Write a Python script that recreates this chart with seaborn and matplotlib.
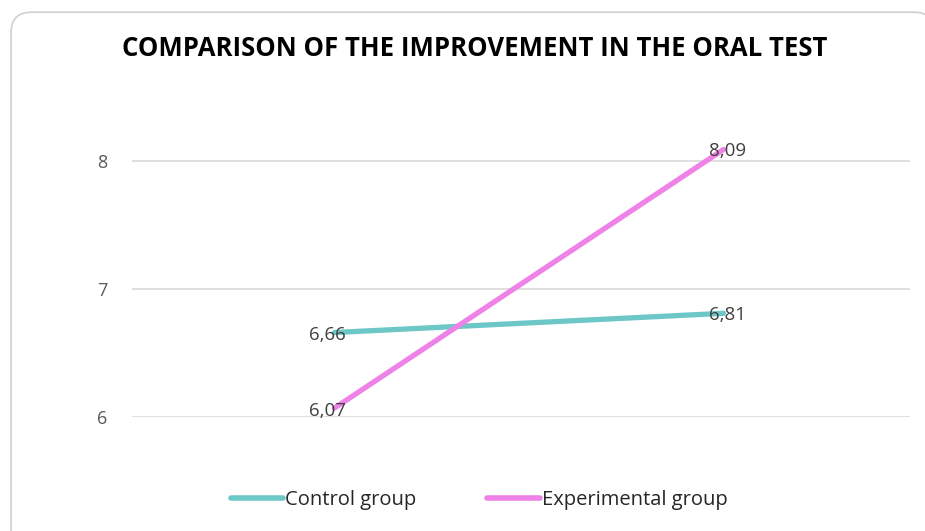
import matplotlib.pyplot as plt
from matplotlib.patches import FancyBboxPatch
import pandas as pd
import seaborn as sns

# ---- data ----
stages = ["Before", "After"]
control = [6.66, 6.81]
experimental = [6.07, 8.09]
groups = ["Control group", "Experimental group"]
colors = ["#6DC7C7", "#EE82E6"]

df = pd.DataFrame({
    "Stage": stages * 2,
    "Score": control + experimental,
    "Group": [groups[0]] * 2 + [groups[1]] * 2,
})

sns.set_theme(style="white")
plt.rcParams["font.family"] = ["Open Sans", "DejaVu Sans"]

fig = plt.figure(figsize=(9.25, 5.31), dpi=100)
ax = fig.add_axes([0.143, 0.2147, 0.841, 0.5424])

# rounded chart frame
frame = FancyBboxPatch((0.012, -0.05), 0.998, 1.027, transform=fig.transFigure,
                       boxstyle="round,pad=0,rounding_size=0.022",
                       mutation_aspect=925 / 531,
                       facecolor="white", edgecolor="#CFCFCF", linewidth=1.2,
                       zorder=-10)
fig.patches.append(frame)

sns.lineplot(data=df, x="Stage", y="Score", hue="Group", palette=colors,
             linewidth=3.8, ax=ax, legend=True, sort=False)
for ln in ax.lines:
    ln.set_solid_capstyle("round")

ax.set_xlim(-0.52, 1.48)
ax.set_ylim(6, 8.25)
ax.set_yticks([6, 7, 8])
ax.set_xticks([])
ax.set_xlabel("")
ax.set_ylabel("")
ax.yaxis.grid(True, color="#D9D9D9", linewidth=1.2)
ax.set_axisbelow(True)
for s in ax.spines.values():
    s.set_visible(False)
ax.tick_params(axis="y", labelsize=13, labelcolor="#595959", pad=18, length=0)
ax.patch.set_alpha(0)

# data labels
lab_kw = dict(fontsize=13.5, color="#404040", textcoords="offset points")
for vals in (control, experimental):
    ax.annotate(f"{vals[0]:.2f}".replace(".", ","), (0, vals[0]),
                xytext=(-5, -2), ha="center", va="center", **lab_kw)
    ax.annotate(f"{vals[1]:.2f}".replace(".", ","), (1, vals[1]),
                xytext=(3, -1), ha="center", va="center", **lab_kw)

fig.text(0.5135, 0.908, "COMPARISON OF THE IMPROVEMENT IN THE ORAL TEST",
         ha="center", va="center", fontsize=18.5, fontweight="bold",
         color="black")

leg = ax.legend(loc="center", bbox_to_anchor=(0.518, 0.058),
                bbox_transform=fig.transFigure, ncol=2, frameon=False,
                fontsize=14.5, handlelength=2.6, handletextpad=0.12,
                columnspacing=3.5)
for h in leg.get_lines():
    h.set_linewidth(4)

fig.savefig("out.png", dpi=100)
